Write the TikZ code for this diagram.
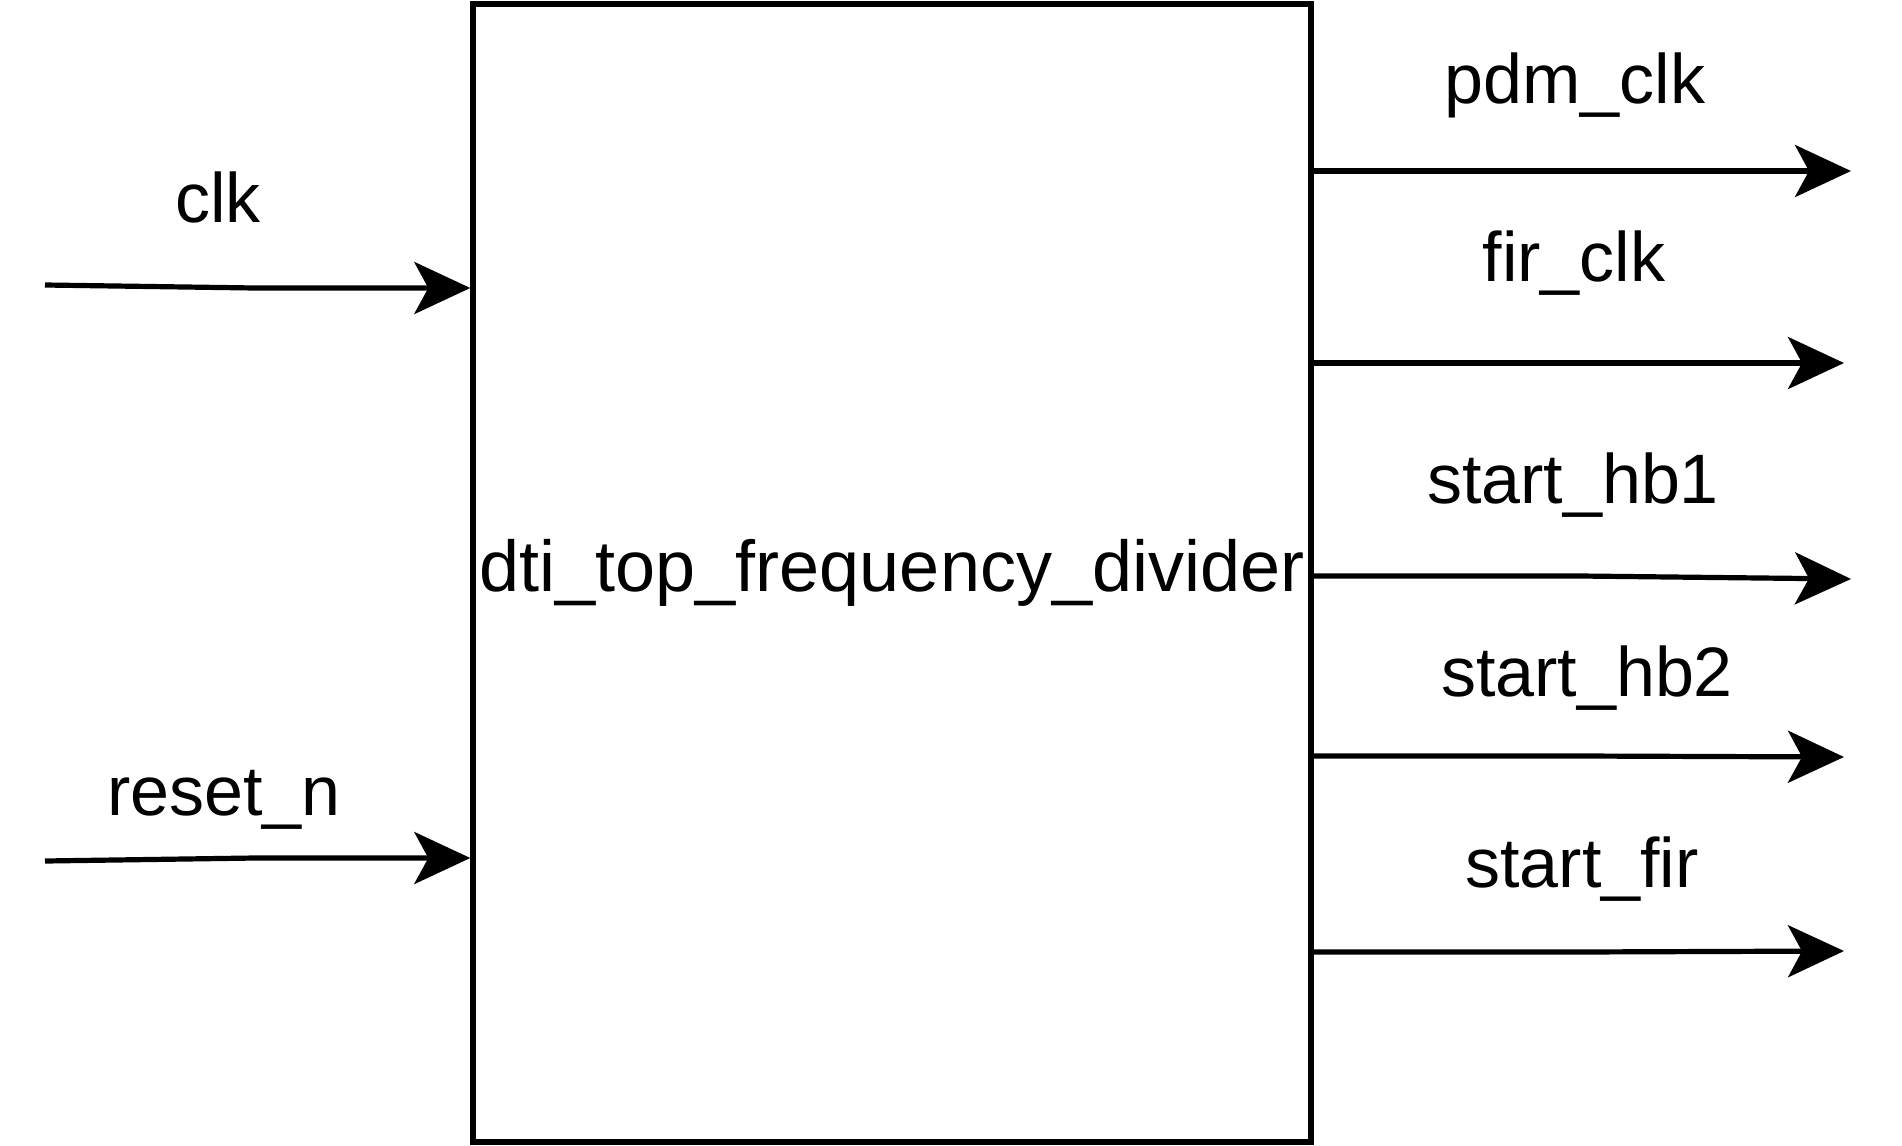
\documentclass[tikz,border=0pt]{standalone}
\usepackage{fontspec}
\setmainfont{Liberation Sans}
\usetikzlibrary{arrows.meta}
\begin{document}
\begin{tikzpicture}[x=0.5pt,y=-0.5pt,
  blk/.style={draw=black,line width=2.7pt,fill=white,minimum width=419pt,minimum height=569pt,inner sep=0pt,font=\fontsize{36}{43}\selectfont},
  lbl/.style={anchor=base,inner sep=0pt,font=\fontsize{35}{42}\selectfont},
  sig/.style={line width=2.6pt,-{Stealth[length=28pt,width=26pt,inset=7pt]}}]
\useasboundingbox[fill=white] (0,0) rectangle (1902,1146);
\node[blk] (box) at (892,573) {dti\_top\_frequency\_divider};
% inputs
\coordinate (clkS) at (45,285);
\coordinate (clkE) at (box.west |- 0,288);
\coordinate (rstS) at (45,861);
\coordinate (rstE) at (box.west |- 0,858);
\draw[sig] (clkS) -- (255,288) -- (clkE);
\draw[sig] (rstS) -- (255,858) -- (rstE);
\node[lbl] (lclk) at (218,222) {clk};
\node[lbl] (lrst) at (224,815) {reset\_n};
% outputs
\coordinate (o1S) at (box.east |- 0,171);
\coordinate (o1E) at (1851,171);
\coordinate (o2S) at (box.east |- 0,363);
\coordinate (o2E) at (1844,363);
\coordinate (o3S) at (box.east |- 0,576);
\coordinate (o3E) at (1851,579);
\coordinate (o4S) at (box.east |- 0,756);
\coordinate (o4E) at (1844,757);
\coordinate (o5S) at (box.east |- 0,952);
\coordinate (o5E) at (1844,951);
\draw[sig] (o1S) -- (o1E);
\draw[sig] (o2S) -- (o2E);
\draw[sig] (o3S) -- (1580,576) -- (o3E);
\draw[sig] (o4S) -- (1580,756) -- (o4E);
\draw[sig] (o5S) -- (1580,952) -- (o5E);
\node[lbl] (l1) at (1575,103) {pdm\_clk};
\node[lbl] (l2) at (1574,281) {fir\_clk};
\node[lbl] (l3) at (1573,503) {start\_hb1};
\node[lbl] (l4) at (1587,696) {start\_hb2};
\node[lbl] (l5) at (1582,887) {start\_fir};
\end{tikzpicture}
\end{document}
